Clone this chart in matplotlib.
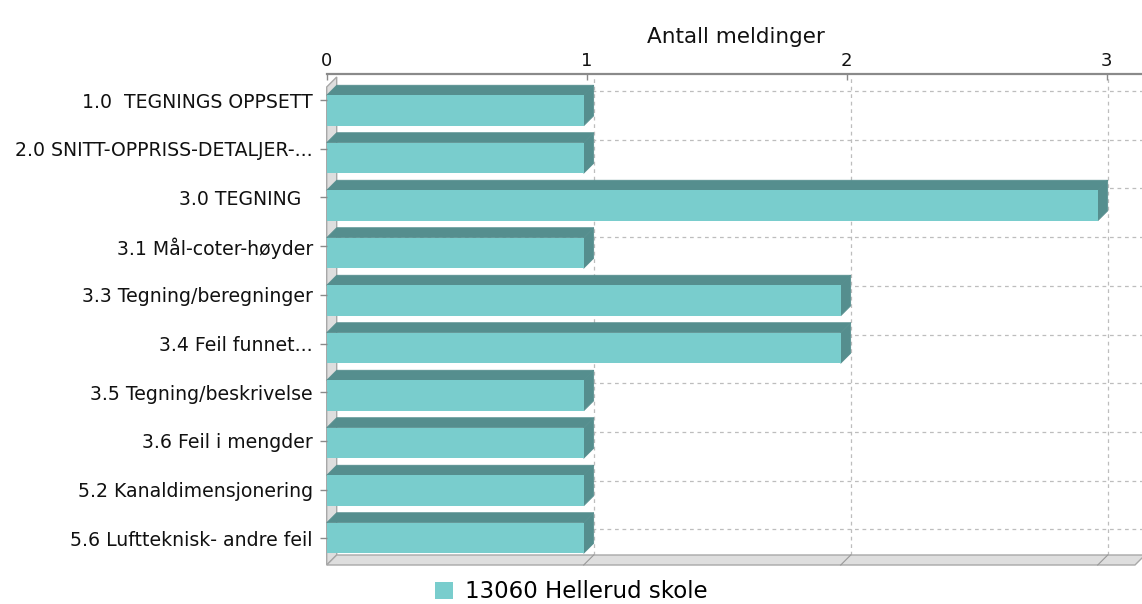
import matplotlib
matplotlib.use("Agg")
import matplotlib.pyplot as plt
import matplotlib.transforms as mtransforms
from matplotlib.patches import Polygon, Patch

# ---------------- data ----------------
categories = [
    "1.0  TEGNINGS OPPSETT",
    "2.0 SNITT-OPPRISS-DETALJER-...",
    "3.0 TEGNING  ",
    "3.1 Mål-coter-høyder",
    "3.3 Tegning/beregninger",
    "3.4 Feil funnet...",
    "3.5 Tegning/beskrivelse",
    "3.6 Feil i mengder",
    "5.2 Kanaldimensjonering",
    "5.6 Luftteknisk- andre feil",
]
values = [1, 1, 3, 1, 2, 2, 1, 1, 1, 1]
x_ticks = [0, 1, 2, 3]
series_name = "13060 Hellerud skole"
x_label = "Antall meldinger"

# ---------------- style ----------------
W, H, DPI = 1142, 604, 100
DX, DY = 10, 10                 # 3D depth in pixels
FRONT = "#79CDCD"
DARK = "#558E8E"
WALL = "#DEDEDE"
WALL_EDGE = "#A8A8A8"
GRID = "#BDBDBD"
plt.rcParams["font.family"] = ["DejaVu Sans"]

fig = plt.figure(figsize=(W / DPI, H / DPI), dpi=DPI)
fig.patch.set_facecolor("white")


def rect(x0, y0, x1, y1):
    return [x0 / W, 1 - y1 / H, (x1 - x0) / W, (y1 - y0) / H]


# front plane axes (bars)
ax = fig.add_axes(rect(326.7, 87, 1135, 565))
ax.set_xlim(0, 3.145)
ax.set_ylim(9.568, -0.495)
ax.axis("off")

# full-area axes for the axis ticks / labels
axf = fig.add_axes(rect(326.7, 74, 1145, 565), zorder=5)
axf.set_xlim(0, 3.147)
axf.set_ylim(9.548, -0.534)
axf.patch.set_visible(False)
for s in ["left", "right", "bottom"]:
    axf.spines[s].set_visible(False)
axf.spines["top"].set_color("#8A8A8A")
axf.spines["top"].set_linewidth(1.6)
axf.xaxis.tick_top()
axf.set_xticks(x_ticks)
axf.set_xticklabels([str(t) for t in x_ticks])
axf.tick_params(axis="x", direction="in", length=4, width=1, color="#8A8A8A",
                labelsize=13, pad=3, labelcolor="#111111")
axf.set_yticks(range(len(categories)))
axf.set_yticklabels(categories)
axf.tick_params(axis="y", direction="out", length=5, width=1, color="#8A8A8A",
                labelsize=13.6, pad=5, labelcolor="#111111")
axf.xaxis.set_label_position("top")
axf.set_xlabel(x_label, fontsize=15.5, labelpad=6, color="#111111")

offs = mtransforms.ScaledTranslation(DX / DPI, DY / DPI, fig.dpi_scale_trans)
fig.canvas.draw()

ident = mtransforms.IdentityTransform()

# walls (left wall and floor)
bl, tl, br = ax.transAxes.transform([(0, 0), (0, 1), (1, 0)])
left_wall = [tuple(bl), tuple(tl), (tl[0] + DX, tl[1] + DY), (bl[0] + DX, bl[1] + DY)]
floor = [tuple(bl), tuple(br), (br[0] + DX, br[1] + DY), (bl[0] + DX, bl[1] + DY)]
for poly in (left_wall, floor):
    ax.add_patch(Polygon(poly, closed=True, transform=ident, facecolor=WALL,
                         edgecolor=WALL_EDGE, lw=1, clip_on=False, zorder=1))

# gridlines on back wall
vtrans = mtransforms.blended_transform_factory(ax.transData, ax.transAxes) + offs
for v in x_ticks[1:]:
    ax.plot([v, v], [0, 1], transform=vtrans, color=GRID, lw=0.9,
            ls=(0, (3, 3)), clip_on=False, zorder=0.5)
    # small diagonal of the grid across the floor
    p0 = ax.transData.transform((v, 0))
    y0 = bl[1]
    ax.plot([p0[0], p0[0] + DX], [y0, y0 + DY], transform=ident, color="#999999",
            lw=0.8, clip_on=False, zorder=1.5)
htrans = mtransforms.blended_transform_factory(ax.transAxes, axf.transData) + \
    mtransforms.ScaledTranslation(DX / DPI, 9 / DPI, fig.dpi_scale_trans)
for i in range(len(categories)):
    ax.plot([0, 1], [i, i], transform=htrans, color=GRID, lw=0.9,
            ls=(0, (3, 3)), clip_on=False, zorder=0.5)

# bars: front faces via barh, top/side faces as depth polygons
BAR_H = 0.645
ypos = list(range(len(categories)))
for y, v in zip(ypos, values):
    (xl, yt), (xr, yb) = ax.transData.transform([(0, y - BAR_H / 2), (v, y + BAR_H / 2)])
    top = [(xl, yt), (xr, yt), (xr + DX, yt + DY), (xl + DX, yt + DY)]
    side = [(xr, yb), (xr + DX, yb + DY), (xr + DX, yt + DY), (xr, yt)]
    for poly in (top, side):
        ax.add_patch(Polygon(poly, closed=True, transform=ident, facecolor=DARK,
                             edgecolor=DARK, lw=0.5, clip_on=False, zorder=2))
ax.barh(ypos, values, height=BAR_H, color=FRONT, edgecolor="none", zorder=3)

# legend
handle = Patch(facecolor=FRONT, edgecolor="none")
fig.legend([handle], [series_name], loc="center", bbox_to_anchor=(0.5, 1 - 592 / H),
           frameon=False, fontsize=16.5, handlelength=0.8, handleheight=0.7,
           handletextpad=0.5, borderaxespad=0, borderpad=0)

fig.savefig("out.png", dpi=DPI, facecolor="white")
